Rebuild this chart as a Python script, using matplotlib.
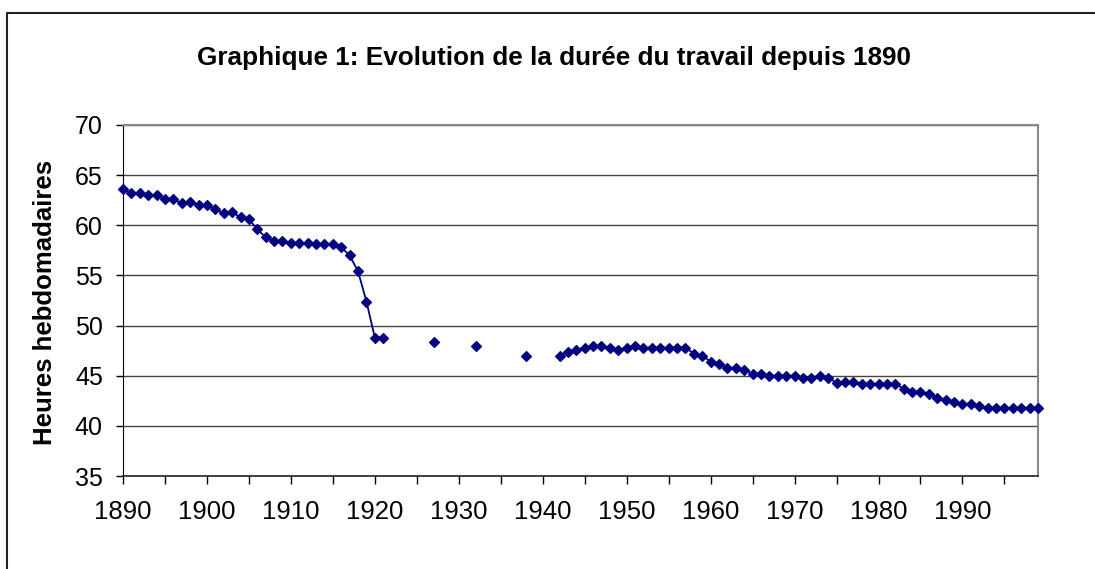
import matplotlib
matplotlib.use("Agg")
import matplotlib.pyplot as plt
from matplotlib.lines import Line2D
import numpy as np
import pandas as pd

plt.rcParams['font.family'] = ['Liberation Sans', 'DejaVu Sans']

# Heures hebdomadaires (annees manquantes = pas de point)
annees_1 = list(range(1890, 1922))
heures_1 = [63.6, 63.2, 63.2, 63.0, 63.0, 62.6, 62.6, 62.2, 62.3, 62.0,
            62.0, 61.6, 61.2, 61.3, 60.8, 60.6, 59.6, 58.8, 58.4, 58.4,
            58.2, 58.2, 58.2, 58.1, 58.1, 58.1, 57.8, 57.0, 55.4, 52.4,
            48.8, 48.8]
annees_2 = [1927, 1932, 1938]
heures_2 = [48.4, 48.0, 47.0]
annees_3 = list(range(1942, 2000))
heures_3 = [47.0, 47.4, 47.6, 47.8, 48.0, 48.0, 47.8, 47.6, 47.8, 48.0,
            47.8, 47.8, 47.8, 47.8, 47.8, 47.8, 47.2, 47.0, 46.4, 46.2,
            45.8, 45.8, 45.6, 45.2, 45.2, 45.0, 45.0, 45.0, 45.0,
            44.8, 44.8, 45.0, 44.8, 44.3, 44.4, 44.4, 44.2, 44.2, 44.2,
            44.2, 44.2, 43.7, 43.4, 43.4, 43.2, 42.8, 42.6, 42.4, 42.2,
            42.2, 42.0, 41.8, 41.8, 41.8, 41.8, 41.8, 41.8, 41.8]

decennies = list(range(1890, 2000, 10))

serie = pd.Series(heures_1 + heures_2 + heures_3, index=annees_1 + annees_2 + annees_3)
serie = serie.reindex(range(1890, 2000))  # NaN pour les annees sans donnee

W, H = 1095, 569
fig = plt.figure(figsize=(W / 100, H / 100), dpi=100)

# cadre exterieur (gauche + haut)
fig.add_artist(Line2D([7 / W, 7 / W, 1], [0, 1 - 13 / H, 1 - 13 / H],
                      transform=fig.transFigure, color='#222222', lw=1.5))

ax = fig.add_axes([123 / W, 1 - 476 / H, (1038 - 123) / W, (476 - 125) / H])
ax.plot(serie.index, serie.values, color='#000080', lw=1.3, marker='D',
        markersize=4.8, markeredgewidth=0.9, clip_on=False, zorder=3)

ax.set_xlim(1890, 1999)
ax.set_ylim(35, 70)
ax.set_yticks(range(35, 71, 5))
ax.set_xticks(range(1890, 2000, 5))
ax.set_xticklabels([str(a) if a in decennies else '' for a in range(1890, 2000, 5)])
ax.yaxis.grid(True, color='#444444', lw=1)
ax.set_axisbelow(True)

ax.tick_params(axis='y', direction='out', length=5, width=1, pad=9.5, labelsize=18)
ax.tick_params(axis='x', direction='out', length=6, width=1, pad=11, labelsize=18.5)
for s in ['top', 'right']:
    ax.spines[s].set_color('#888888')
    ax.spines[s].set_linewidth(1.5)
ax.spines['left'].set_color('#000000')
ax.spines['bottom'].set_color('#333333')
ax.spines['bottom'].set_linewidth(1.3)

fig.text(554 / W, 1 - 58 / H, "Graphique 1: Evolution de la durée du travail depuis 1890",
         ha='center', va='center', fontsize=18.8, fontweight='bold')
fig.text(45 / W, 1 - 302 / H, "Heures hebdomadaires", rotation=90,
         ha='center', va='center', fontsize=18.5, fontweight='bold')

fig.savefig("out.png", dpi=100)
